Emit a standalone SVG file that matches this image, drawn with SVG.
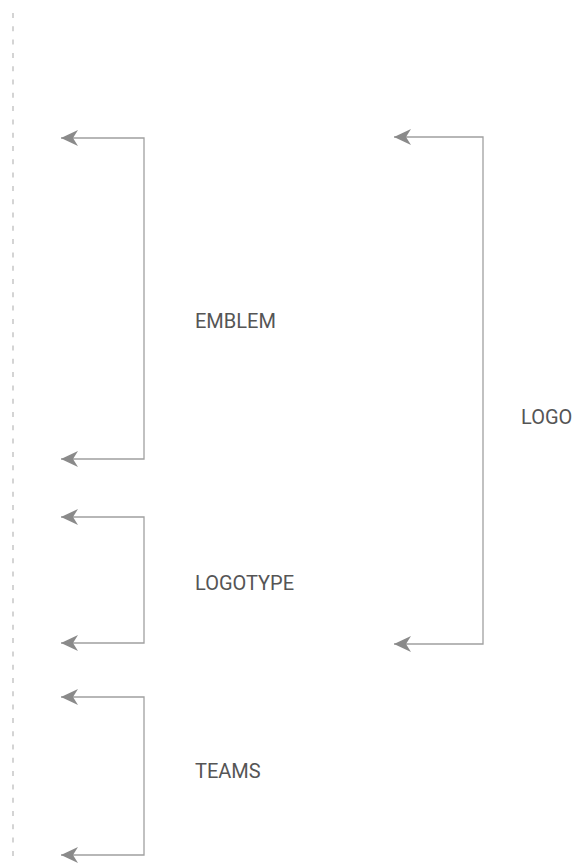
<svg xmlns="http://www.w3.org/2000/svg" width="575" height="863" viewBox="0 0 575 863">
<style>
.c{fill:none;stroke:#a0a0a0;stroke-width:1.3}
.t{font-family:Roboto,"Liberation Sans",sans-serif;font-size:20px;fill:#555}
</style>
<defs>
<marker id="ah" markerUnits="userSpaceOnUse" markerWidth="20" markerHeight="20" refX="17" refY="8" orient="auto-start-reverse" viewBox="0 0 20 16">
<path d="M17,8 L0,0 L5,8 L0,16 Z" fill="#8a8a8a"/>
</marker>
</defs>
<rect width="575" height="863" fill="#fff"/>
<line x1="13" y1="13" x2="13" y2="863" stroke="#bdbdbd" stroke-width="1.3" stroke-dasharray="5 8.3"/>
<g id="connectors">
<path class="c" d="M61,138 H144 V459 H61" marker-start="url(#ah)" marker-end="url(#ah)"/>
<path class="c" d="M61,517 H144 V643 H61" marker-start="url(#ah)" marker-end="url(#ah)"/>
<path class="c" d="M61,697 H144 V855 H61" marker-start="url(#ah)" marker-end="url(#ah)"/>
<path class="c" d="M394,137 H483 V644 H394" marker-start="url(#ah)" marker-end="url(#ah)"/>
</g>
<g id="emblem"><text class="t" x="195" y="328">EMBLEM</text></g>
<g id="logotype"><text class="t" x="195" y="590">LOGOTYPE</text></g>
<g id="teams"><text class="t" x="195" y="778">TEAMS</text></g>
<g id="logo"><text class="t" x="521" y="424">LOGO</text></g>
</svg>
